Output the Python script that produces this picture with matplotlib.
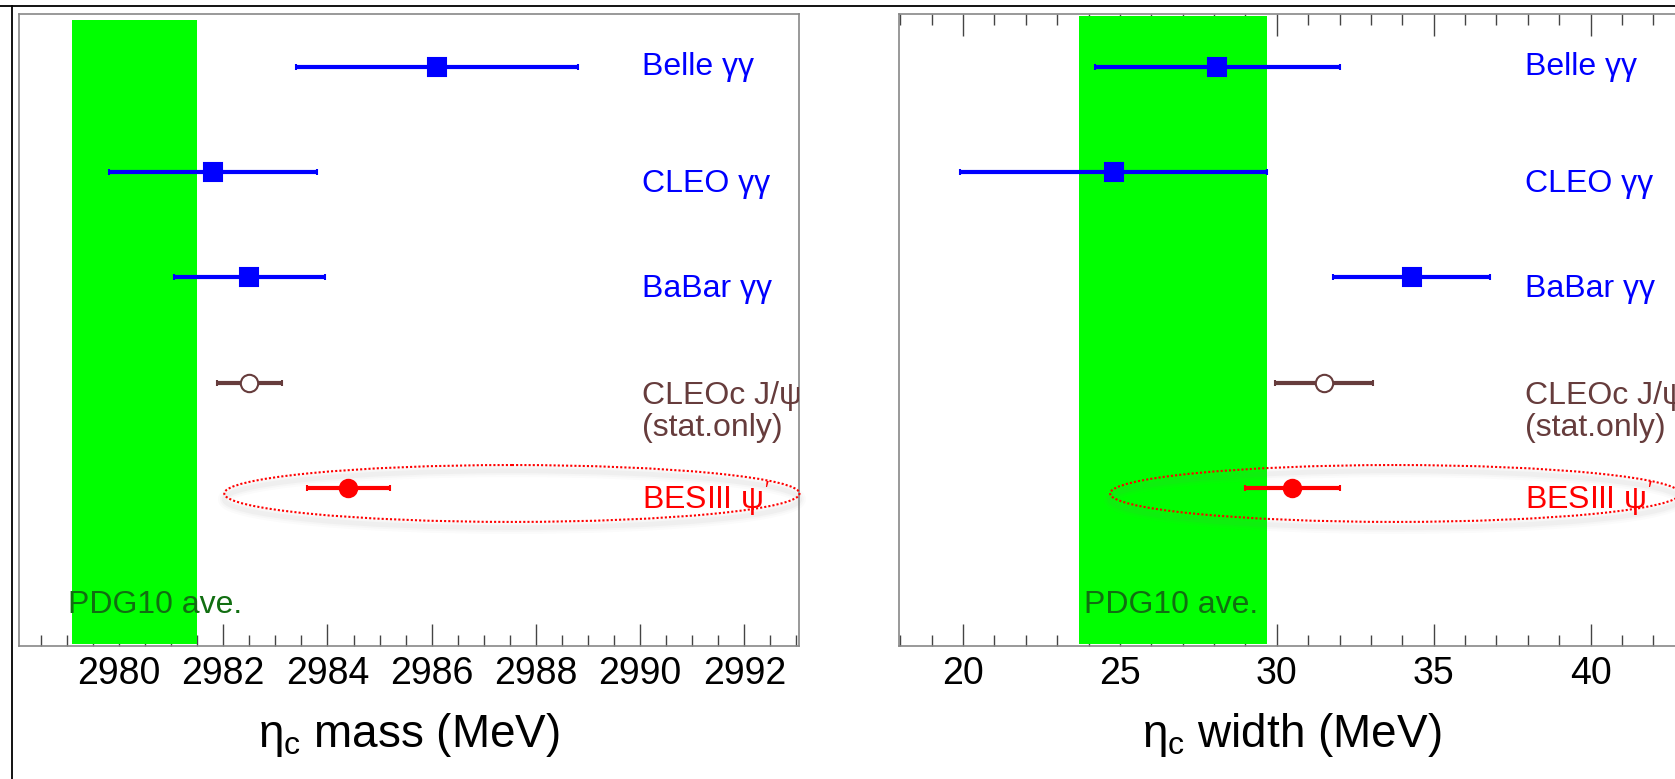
import matplotlib
matplotlib.use("Agg")
import matplotlib.pyplot as plt
from matplotlib.patches import Ellipse
from matplotlib.lines import Line2D
from matplotlib.ticker import MultipleLocator

# ---------------- data ----------------
experiments = ["Belle γγ", "CLEO γγ", "BaBar γγ", "CLEOc J/ψ", "BESIII $\\psi'$"]
note_cleoc = "(stat.only)"
rows = [1, 2, 3, 4, 5]
mass_val = [2986.1, 2981.8, 2982.5, 2982.5, 2984.4]
mass_err = [2.7, 2.0, 1.45, 0.62, 0.8]
width_val = [28.1, 24.8, 34.3, 31.5, 30.5]
width_err = [3.9, 4.9, 2.5, 1.55, 1.5]
pdg_mass, pdg_mass_err = 2980.3, 1.2
pdg_width, pdg_width_err = 26.7, 3.0
pdg_label = "PDG10 ave."
mass_ticks = [2980, 2982, 2984, 2986, 2988, 2990, 2992]
width_ticks = [20, 25, 30, 35, 40]

# ---------------- style ----------------
plt.rcParams["font.family"] = ["Liberation Sans", "DejaVu Sans"]
plt.rcParams["mathtext.fontset"] = "custom"
plt.rcParams["mathtext.rm"] = "Liberation Sans"
plt.rcParams["mathtext.it"] = "Liberation Sans"
plt.rcParams["mathtext.bf"] = "Liberation Sans:bold"

BLUE = "#0000ff"
BROWN = "#663c3c"
RED = "#ff0000"
GREEN = "#00ff00"
DKGREEN = "#116e11"
colors = [BLUE, BLUE, BLUE, BROWN, RED]
faces = [BLUE, BLUE, BLUE, "white", RED]
markers = ["s", "s", "s", "o", "o"]
label_dy = [0.08, 0.19, 0.19, 0.20, 0.20]

W, H = 1675, 779
fig = plt.figure(figsize=(W / 100, H / 100), dpi=100)
fig.patch.set_facecolor("white")

ax_bottom = (H - 646) / H
ax_height = 632 / H
axL = fig.add_axes([19 / W, ax_bottom, 780 / W, ax_height])
axR = fig.add_axes([899.3 / W, ax_bottom, 784.5 / W, ax_height])


def panel(ax, vals, errs, pdg, pdgerr, xlim, ticks, minor, label_x, green_top,
          ell_cx, ell_w, pdg_x, xlabel, top_ticks):
    ax.set_xlim(*xlim)
    ax.set_ylim(6.5, 0.5)
    ax.set_yticks([])
    ax.set_xticks(ticks)
    ax.xaxis.set_minor_locator(MultipleLocator(minor))
    ax.tick_params(axis="x", which="both", direction="in", top=top_ticks,
                   bottom=True, color="#444444", width=1.0, labelsize=27,
                   pad=7)
    ax.tick_params(axis="x", which="major", length=15.8)
    ax.tick_params(axis="x", which="minor", length=7.9)
    for sp in ax.spines.values():
        sp.set_color("#888888")
        sp.set_linewidth(1.2)

    # PDG band (drawn over the ticks as in the original)
    ax.axvspan(pdg - pdgerr, pdg + pdgerr, ymin=0.0025, ymax=green_top,
               color=GREEN, lw=0, zorder=2.6)
    ax.text(pdg_x, 6.19, pdg_label, color=DKGREEN, fontsize=23,
            ha="left", va="baseline", zorder=3)

    # highlight ellipse with a soft shadow
    for k, (lw, a) in enumerate([(9, 0.03), (6, 0.04), (3.5, 0.05)]):
        ax.add_patch(Ellipse((ell_cx, 5.052 + 0.055), ell_w, 0.54, fill=False,
                             ec="#808080", lw=lw, alpha=a, zorder=3,
                             clip_on=False))
    ax.add_patch(Ellipse((ell_cx, 5.052), ell_w, 0.54, fill=False, ec=RED,
                         lw=1.5, ls=(0, (1, 1)), zorder=3.2, clip_on=False))

    for r, v, e, c, fc, m in zip(rows, vals, errs, colors, faces, markers):
        ax.errorbar(v, r, xerr=e, fmt=m, color=c, mfc=fc, mec=c, mew=1.5,
                    ms=13.5 if m == "s" else 12.5, elinewidth=3, capsize=2,
                    capthick=2, zorder=5)

    for r, name, c, dy in zip(rows, experiments, colors, label_dy):
        ax.text(label_x, r + dy, name, color=c, fontsize=23, ha="left",
                va="baseline", zorder=6, clip_on=True)
    ax.text(label_x, rows[3] + 0.505, note_cleoc, color=BROWN, fontsize=23,
            ha="left", va="baseline", zorder=6, clip_on=True)

    ax.set_xlabel(xlabel, fontsize=33, labelpad=14)


panel(axL, mass_val, mass_err, pdg_mass, pdg_mass_err,
      (2978.08, 2993.05), mass_ticks, 0.5, 2990.04, (646 - 20) / 632,
      2987.54, 11.04, 2979.02, r"$\eta_{\mathregular{c}}$ mass (MeV)", False)
panel(axR, width_val, width_err, pdg_width, pdg_width_err,
      (17.97, 42.97), width_ticks, 1, 37.9, (646 - 16) / 632,
      33.77, 18.16, 23.86, r"$\eta_{\mathregular{c}}$ width (MeV)", True)

# slide frame lines
fig.add_artist(Line2D([0, 1], [1 - 6 / H, 1 - 6 / H], transform=fig.transFigure,
                      color="black", lw=1.3))
fig.add_artist(Line2D([11.5 / W, 11.5 / W], [0, 1 - 6 / H],
                      transform=fig.transFigure, color="black", lw=1.3))

fig.savefig("out.png", dpi=100)
